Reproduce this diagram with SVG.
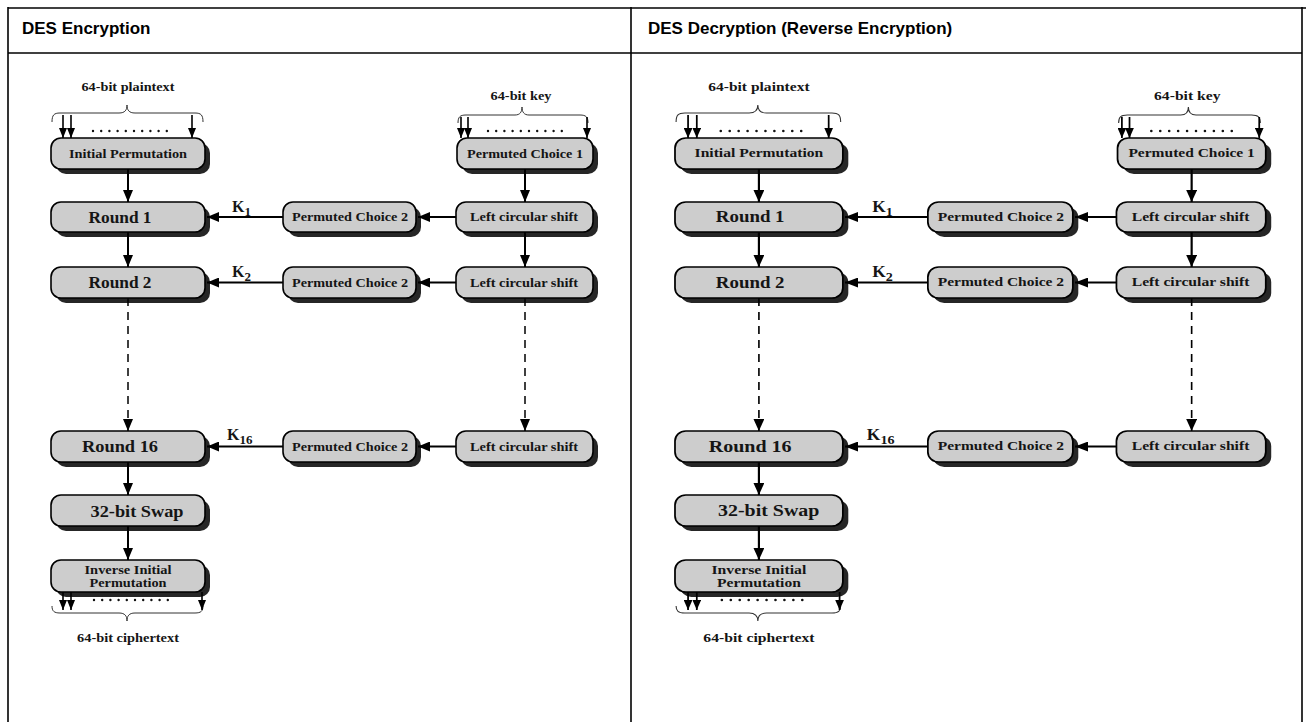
<svg xmlns="http://www.w3.org/2000/svg" width="1306" height="722" viewBox="0 0 1306 722">
<defs>
<marker id="ah" viewBox="0 0 12 10" refX="12" refY="5" markerWidth="12" markerHeight="10" markerUnits="userSpaceOnUse" orient="auto"><path d="M0,0 L12,5 L0,10 z" fill="#000"/></marker>
<marker id="ahs" viewBox="0 0 10 8" refX="10" refY="4" markerWidth="10" markerHeight="8" markerUnits="userSpaceOnUse" orient="auto"><path d="M0,0 L10,4 L0,8 z" fill="#000"/></marker>
<style>
.box{fill:#cdcdcd;stroke:#000;stroke-width:1.6}
.sh{fill:#262626}
.t{font-family:"Liberation Serif","Times New Roman",serif;font-weight:bold;fill:#151515;text-anchor:middle}
.k{font-family:"Liberation Serif","Times New Roman",serif;font-weight:bold;fill:#151515;font-size:16px}
.ln{stroke:#000;stroke-width:2;fill:none}
.lns{stroke:#000;stroke-width:1.6;fill:none}
.br{stroke:#333;stroke-width:1;fill:none}
.dots{stroke:#111;stroke-width:2.4;stroke-linecap:round;stroke-dasharray:0 8.2;fill:none}
.dash{stroke:#000;stroke-width:1.5;stroke-dasharray:8 6;fill:none}
.hd{font-family:"Liberation Sans",Arial,sans-serif;font-weight:bold;font-size:17px;fill:#000}
.tb{stroke:#000;stroke-width:1.6;fill:none}
</style>
</defs>
<g id="panel">
  <g id="pt-label"><text class="t" x="128" y="91" font-size="11.5" textLength="93" lengthAdjust="spacingAndGlyphs">64-bit plaintext</text></g>
  <g id="key-label"><text class="t" x="521" y="100" font-size="11.5" textLength="61" lengthAdjust="spacingAndGlyphs">64-bit key</text></g>
  <g id="ct-label"><text class="t" x="128" y="642" font-size="11.5" textLength="102" lengthAdjust="spacingAndGlyphs">64-bit ciphertext</text></g>
  <g id="ip"><rect class="sh" x="56" y="143" width="154" height="31" rx="10"/><rect class="box" x="51" y="138" width="154" height="31" rx="10"/><text class="t" x="128" y="157.5" font-size="12.5" textLength="118" lengthAdjust="spacingAndGlyphs">Initial Permutation</text></g>
  <g id="r1"><rect class="sh" x="56" y="207" width="154" height="30" rx="10"/><rect class="box" x="51" y="202" width="154" height="30" rx="10"/><text class="t" x="120" y="222.5" font-size="16" textLength="63" lengthAdjust="spacingAndGlyphs">Round 1</text></g>
  <g id="r2"><rect class="sh" x="56" y="272" width="154" height="31" rx="10"/><rect class="box" x="51" y="267" width="154" height="31" rx="10"/><text class="t" x="120" y="288" font-size="16" textLength="63" lengthAdjust="spacingAndGlyphs">Round 2</text></g>
  <g id="r16"><rect class="sh" x="56" y="436" width="154" height="31" rx="10"/><rect class="box" x="51" y="431" width="154" height="31" rx="10"/><text class="t" x="120" y="452" font-size="16" textLength="76" lengthAdjust="spacingAndGlyphs">Round 16</text></g>
  <g id="swap"><rect class="sh" x="56" y="500" width="154" height="31" rx="10"/><rect class="box" x="51" y="495" width="154" height="31" rx="10"/><text class="t" x="137" y="516.5" font-size="16" textLength="93" lengthAdjust="spacingAndGlyphs">32-bit Swap</text></g>
  <g id="iip"><rect class="sh" x="56" y="565" width="154" height="32" rx="10"/><rect class="box" x="51" y="560" width="154" height="32" rx="10"/><text class="t" x="128" y="574" font-size="12" textLength="87" lengthAdjust="spacingAndGlyphs">Inverse Initial</text><text class="t" x="128" y="587" font-size="12" textLength="77" lengthAdjust="spacingAndGlyphs">Permutation</text></g>
  <g id="pc1"><rect class="sh" x="462" y="143" width="136" height="31" rx="10"/><rect class="box" x="457" y="138" width="136" height="31" rx="10"/><text class="t" x="525" y="157.5" font-size="12" textLength="116" lengthAdjust="spacingAndGlyphs">Permuted Choice 1</text></g>
  <g id="lcs1"><rect class="sh" x="461" y="207" width="137" height="30" rx="10"/><rect class="box" x="456" y="202" width="137" height="30" rx="10"/><text class="t" x="524" y="221" font-size="11.5" textLength="108" lengthAdjust="spacingAndGlyphs">Left circular shift</text></g>
  <g id="lcs2"><rect class="sh" x="461" y="272" width="137" height="31" rx="10"/><rect class="box" x="456" y="267" width="137" height="31" rx="10"/><text class="t" x="524" y="286.5" font-size="11.5" textLength="108" lengthAdjust="spacingAndGlyphs">Left circular shift</text></g>
  <g id="lcs16"><rect class="sh" x="461" y="436" width="137" height="31" rx="10"/><rect class="box" x="456" y="431" width="137" height="31" rx="10"/><text class="t" x="524" y="450.5" font-size="11.5" textLength="108" lengthAdjust="spacingAndGlyphs">Left circular shift</text></g>
  <g id="pc2a"><rect class="sh" x="288" y="207" width="133" height="30" rx="10"/><rect class="box" x="283" y="202" width="133" height="30" rx="10"/><text class="t" x="350" y="221" font-size="11.5" textLength="116" lengthAdjust="spacingAndGlyphs">Permuted Choice 2</text></g>
  <g id="pc2b"><rect class="sh" x="288" y="272" width="133" height="31" rx="10"/><rect class="box" x="283" y="267" width="133" height="31" rx="10"/><text class="t" x="350" y="286.5" font-size="11.5" textLength="116" lengthAdjust="spacingAndGlyphs">Permuted Choice 2</text></g>
  <g id="pc2c"><rect class="sh" x="288" y="436" width="133" height="31" rx="10"/><rect class="box" x="283" y="431" width="133" height="31" rx="10"/><text class="t" x="350" y="450.5" font-size="11.5" textLength="116" lengthAdjust="spacingAndGlyphs">Permuted Choice 2</text></g>
  <g id="k1"><text class="k" x="232" y="212">K<tspan font-size="13" dy="4">1</tspan></text></g>
  <g id="k2"><text class="k" x="232" y="277">K<tspan font-size="13" dy="4">2</tspan></text></g>
  <g id="k16"><text class="k" x="227" y="440">K<tspan font-size="13" dy="4">16</tspan></text></g>
  <g id="connectors">
    <path class="br" d="M52,122 C52,115 54,113 60,113 L119,113 C125,113 127,110 127,105 C127,110 129,113 135,113 L195,113 C201,113 203,115 203,122"/>
    <path class="br" d="M458,123 C458,117 460,115 466,115 L515,115 C520,115 522,112 522,107 C522,112 524,115 529,115 L580,115 C586,115 588,117 588,123"/>
    <path class="br" d="M52,606 C52,611 54,613 60,613 L119,613 C125,613 127,616 127,621 C127,616 129,613 135,613 L195,613 C201,613 203,611 203,606"/>
    <line class="dots" x1="93" y1="131" x2="168" y2="131"/>
    <line class="dots" x1="488" y1="131" x2="563" y2="131"/>
    <line class="dots" x1="94" y1="600" x2="174" y2="600"/>
    <line class="lns" x1="63" y1="115" x2="63" y2="138" marker-end="url(#ahs)"/>
    <line class="lns" x1="71" y1="115" x2="71" y2="138" marker-end="url(#ahs)"/>
    <line class="lns" x1="192" y1="115" x2="192" y2="138" marker-end="url(#ahs)"/>
    <line class="lns" x1="461" y1="117" x2="461" y2="138" marker-end="url(#ahs)"/>
    <line class="lns" x1="468" y1="117" x2="468" y2="138" marker-end="url(#ahs)"/>
    <line class="lns" x1="587" y1="117" x2="587" y2="138" marker-end="url(#ahs)"/>
    <line class="lns" x1="63" y1="592" x2="63" y2="610" marker-end="url(#ahs)"/>
    <line class="lns" x1="71" y1="592" x2="71" y2="610" marker-end="url(#ahs)"/>
    <line class="lns" x1="202" y1="592" x2="202" y2="610" marker-end="url(#ahs)"/>
    <line class="ln" x1="128" y1="169" x2="128" y2="202" marker-end="url(#ah)"/>
    <line class="ln" x1="128" y1="232" x2="128" y2="267" marker-end="url(#ah)"/>
    <line class="dash" x1="128" y1="298" x2="128" y2="431" marker-end="url(#ah)"/>
    <line class="ln" x1="128" y1="462" x2="128" y2="495" marker-end="url(#ah)"/>
    <line class="ln" x1="128" y1="526" x2="128" y2="560" marker-end="url(#ah)"/>
    <line class="ln" x1="525" y1="169" x2="525" y2="202" marker-end="url(#ah)"/>
    <line class="ln" x1="525" y1="232" x2="525" y2="267" marker-end="url(#ah)"/>
    <line class="dash" x1="525" y1="298" x2="525" y2="431" marker-end="url(#ah)"/>
    <line class="ln" x1="456" y1="217" x2="418" y2="217" marker-end="url(#ah)"/>
    <line class="ln" x1="456" y1="282.5" x2="418" y2="282.5" marker-end="url(#ah)"/>
    <line class="ln" x1="456" y1="446.5" x2="418" y2="446.5" marker-end="url(#ah)"/>
    <line class="ln" x1="283" y1="217" x2="207" y2="217" marker-end="url(#ah)"/>
    <line class="ln" x1="283" y1="282.5" x2="207" y2="282.5" marker-end="url(#ah)"/>
    <line class="ln" x1="283" y1="446.5" x2="207" y2="446.5" marker-end="url(#ah)"/>
  </g>
</g>
<use href="#panel" transform="matrix(1.09,0,0,1,619.4,0)"/>
<g id="table">
  <line class="tb" x1="8" y1="8" x2="1306" y2="8" stroke-width="2"/>
  <line class="tb" x1="8" y1="53" x2="1302" y2="53" stroke-width="1.3"/>
  <line class="tb" x1="8" y1="7" x2="8" y2="722"/>
  <line class="tb" x1="631" y1="7" x2="631" y2="722"/>
  <line class="tb" x1="1302" y1="7" x2="1302" y2="722"/>
  <text class="hd" x="22" y="34">DES Encryption</text>
  <text class="hd" x="648" y="34">DES Decryption (Reverse Encryption)</text>
</g>
</svg>
